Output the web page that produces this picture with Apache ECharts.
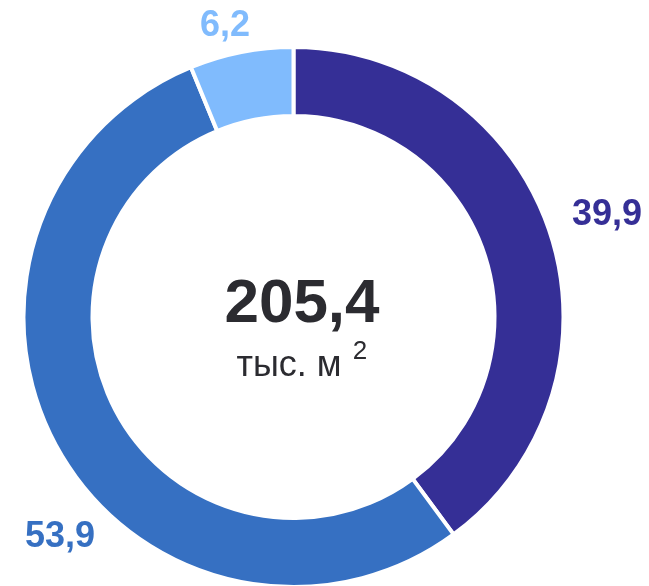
<!DOCTYPE html>
<html>
<head>
<meta charset="utf-8">
<script src="https://cdn.jsdelivr.net/npm/echarts@6/dist/echarts.min.js"></script>
<style>
  html, body { margin: 0; padding: 0; background: #fff; }
  #chart { width: 649px; height: 586px; }
</style>
</head>
<body>
<div id="chart"></div>
<script>
// доли площади, %
const labels = ['39,9', '53,9', '6,2']
const values = [39.9, 53.9, 6.2]
const colors = ['#352f96', '#3670c2', '#80bbfd']
const total = '205,4'
const unit = 'тыс. м'

// где стоят подписи (центр текста)
const labelPos = [[607, 215], [60, 537], [225, 26]]

const chart = echarts.init(document.getElementById('chart'))

chart.setOption({
  animation: false,
  backgroundColor: '#fff',
  series: [{
    type: 'pie',
    center: [293.5, 317],
    radius: [201, 270],
    startAngle: 90,
    clockwise: true,
    silent: true,
    avoidLabelOverlap: false,
    itemStyle: { borderColor: '#fff', borderWidth: 4 },
    label: {
      show: true,
      position: 'outside',
      overflow: 'none',
      fontFamily: 'Liberation Sans, Arial, sans-serif',
      fontSize: 36,
      fontWeight: 'bold',
      formatter: p => labels[p.dataIndex]
    },
    labelLine: { show: false },
    labelLayout: p => ({
      x: labelPos[p.dataIndex][0],
      y: labelPos[p.dataIndex][1],
      align: 'center',
      verticalAlign: 'middle',
      hideOverlap: false
    }),
    data: values.map((v, i) => ({
      value: v,
      itemStyle: { color: colors[i] },
      label: { color: colors[i] }
    }))
  }],
  graphic: [
    {
      type: 'text', x: 302, y: 305,
      style: {
        text: total, fill: '#2b2b30',
        font: 'bold 62px "Liberation Sans", Arial, sans-serif',
        align: 'center', verticalAlign: 'middle'
      }
    },
    {
      type: 'text', x: 289, y: 366,
      style: {
        text: unit, fill: '#2b2b30',
        font: '36px "Liberation Sans", Arial, sans-serif',
        align: 'center', verticalAlign: 'middle'
      }
    },
    {
      type: 'text', x: 360, y: 352,
      style: {
        text: '2', fill: '#2b2b30',
        font: '26px "Liberation Sans", Arial, sans-serif',
        align: 'center', verticalAlign: 'middle'
      }
    }
  ]
})
</script>
</body>
</html>
